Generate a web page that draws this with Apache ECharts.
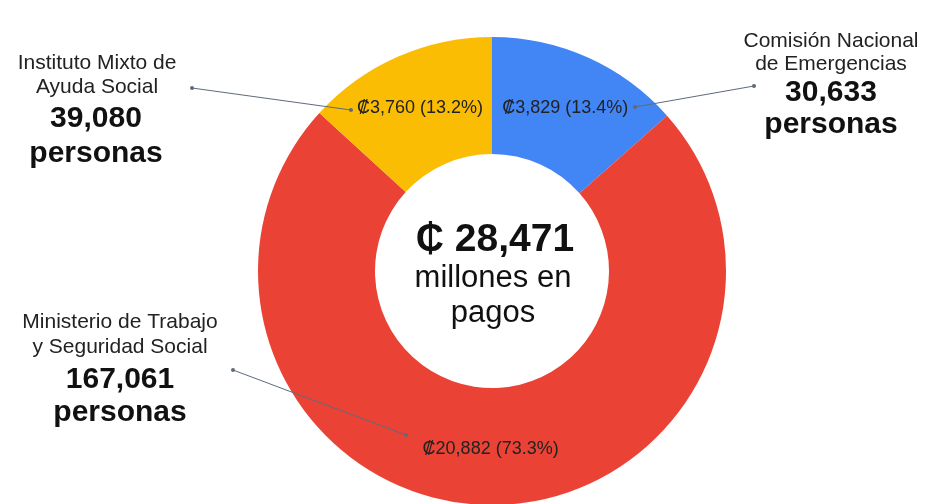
<!DOCTYPE html>
<html>
<head>
<meta charset="utf-8">
<script src="https://cdn.jsdelivr.net/npm/echarts@6/dist/echarts.min.js"></script>
<style>html,body{margin:0;padding:0;background:#fff}#c{width:933px;height:504px}</style>
</head>
<body>
<div id="c"></div>
<script>
// Data (clockwise from top)
var categories = ['Comisión Nacional de Emergencias', 'Ministerio de Trabajo y Seguridad Social', 'Instituto Mixto de Ayuda Social'];
var pagos = [3829, 20882, 3760];          // millones de colones
var porcentajes = ['13.4%', '73.3%', '13.2%'];
var personas = ['30,633', '167,061', '39,080'];
var colors = ['#4285F4', '#EA4335', '#FBBC04'];
var totalText = '₵ 28,471';

var chart = echarts.init(document.getElementById('c'), null, {renderer: 'canvas'});
var FONT = '"Liberation Sans", Arial, Helvetica, sans-serif';

function fmt(n) { return n.toLocaleString('en-US'); }

var data = categories.map(function (c, i) {
  return { name: c, value: pagos[i], itemStyle: { color: colors[i] } };
});

var lineStyle = { stroke: '#5f6b7a', lineWidth: 1 };
function connector(x1, y1, x2, y2) {
  return [
    { type: 'line', shape: { x1: x1, y1: y1, x2: x2, y2: y2 }, style: lineStyle, z: 10 },
    { type: 'circle', shape: { cx: x1, cy: y1, r: 2 }, style: { fill: '#5f6b7a' }, z: 10 },
    { type: 'circle', shape: { cx: x2, cy: y2, r: 2 }, style: { fill: '#5f6b7a' }, z: 10 }
  ];
}
function txt(x, y, s, size, weight, color) {
  return { type: 'text', x: x, y: y, z: 10,
    style: { text: s, font: weight + ' ' + size + 'px ' + FONT, fill: color,
      textAlign: 'center', textVerticalAlign: 'middle' } };
}

var graphics = [];
// Left top block: IMAS
graphics.push(txt(97, 63, 'Instituto Mixto de', 21, 'normal', '#222'));
graphics.push(txt(97, 87, 'Ayuda Social', 21, 'normal', '#222'));
graphics.push(txt(96, 119, personas[2], 30, 'bold', '#111'));
graphics.push(txt(96, 154, 'personas', 30, 'bold', '#111'));
// Right block: CNE
graphics.push(txt(831, 41, 'Comisión Nacional', 21, 'normal', '#222'));
graphics.push(txt(831, 64, 'de Emergencias', 21, 'normal', '#222'));
graphics.push(txt(831, 93, personas[0], 30, 'bold', '#111'));
graphics.push(txt(831, 125, 'personas', 30, 'bold', '#111'));
// Bottom left: MTSS
graphics.push(txt(120, 322, 'Ministerio de Trabajo', 21, 'normal', '#222'));
graphics.push(txt(120, 347, 'y Seguridad Social', 21, 'normal', '#222'));
graphics.push(txt(120, 380, personas[1], 30, 'bold', '#111'));
graphics.push(txt(120, 413, 'personas', 30, 'bold', '#111'));
// Center
graphics.push(txt(495, 240, totalText, 39, 'bold', '#111'));
graphics.push(txt(493, 278, 'millones en', 31, 'normal', '#111'));
graphics.push(txt(493, 313, 'pagos', 31, 'normal', '#111'));
// Connectors
graphics = graphics.concat(connector(192, 88, 351, 110));
graphics = graphics.concat(connector(754, 86, 635, 107));
graphics = graphics.concat(connector(233, 370, 406, 435));

chart.setOption({
  backgroundColor: '#ffffff',
  animation: false,
  series: [{
    type: 'pie',
    center: [492, 271],
    radius: [117, 234],
    startAngle: 90,
    clockwise: true,
    avoidLabelOverlap: false,
    itemStyle: { borderWidth: 0 },
    label: {
      show: true,
      position: 'inside',
      fontFamily: FONT,
      fontSize: 18,
      color: '#222',
      formatter: function (p) {
        return '₡' + fmt(p.value) + ' (' + porcentajes[p.dataIndex] + ')';
      }
    },
    labelLine: { show: false },
    emphasis: { disabled: true },
    data: data
  }],
  graphic: graphics
});
</script>
</body>
</html>
